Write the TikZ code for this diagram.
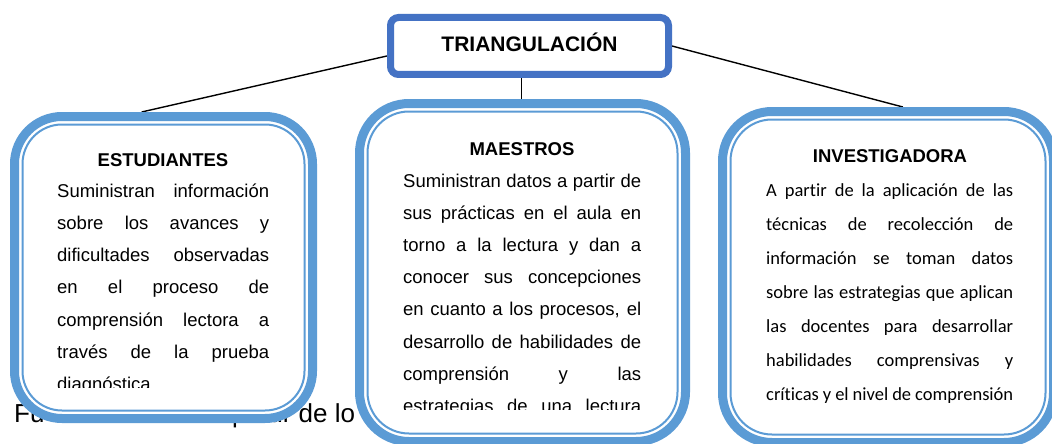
\documentclass[tikz,border=0pt]{standalone}
\usepackage{fontspec}
\setmainfont[Ligatures=NoCommon]{Liberation Sans}
\newfontfamily\calibri[Ligatures=NoCommon]{Carlito}
\usetikzlibrary{backgrounds}
\definecolor{topblue}{HTML}{4472C4}
\definecolor{boxblue}{HTML}{5B9BD5}
\tikzset{
  topbox/.style={draw=topblue, line width=7pt, rounded corners=8pt, fill=white, inner sep=0pt},
  outerband/.style={draw=boxblue, line width=9pt, fill=white, inner sep=0pt},
  innerline/.style={draw=boxblue, line width=2pt, inner sep=0pt},
  conn/.style={draw=black, line width=1.4pt},
  boxtitle/.style={font=\fontsize{18.5}{22}\selectfont\bfseries, inner sep=0pt, anchor=base},
  bodytext/.style={inner sep=0pt, anchor=base west},
  footer/.style={font=\fontsize{26}{30}\selectfont, inner sep=0pt, anchor=base west},
}
\newcommand\jline[1]{\hbox to\hsize{#1}}
\begin{document}
\begin{tikzpicture}[x=1pt,y=-1pt]
\clip (0,0) rectangle (1052,444);

% boxes
\node[topbox, minimum width=278pt, minimum height=57pt] (tri) at (529.5,46) {};
\node[outerband, minimum width=298pt, minimum height=302pt, rounded corners=47.5pt] (est) at (163.5,267.5) {};
\node[outerband, minimum width=326pt, minimum height=338pt, rounded corners=49.5pt] (mae) at (522.5,272.5) {};
\node[outerband, minimum width=331pt, minimum height=331pt, rounded corners=49.5pt] (inv) at (888,277) {};
\node[innerline, minimum width=282pt, minimum height=286pt, rounded corners=39.5pt] (estin) at (est.center) {};
\node[innerline, minimum width=310pt, minimum height=322pt, rounded corners=41.5pt] (maein) at (mae.center) {};
\node[innerline, minimum width=315pt, minimum height=315pt, rounded corners=41.5pt] (invin) at (inv.center) {};

% background: white page, footer text, connectors (behind boxes)
\begin{scope}[on background layer]
\fill[white] (0,0) rectangle (1052,444);
\node[footer] (fu) at (14,422) {Fu};
\node[footer] (pa) at (232,422) {partir de lo};
\draw[conn] (tri.184) -- (est.98);
\draw[conn] ([xshift=-8pt]tri.south) -- ([xshift=-8pt]tri.south |- mae.north);
\draw[conn] (tri.east) -- (inv.85);
\end{scope}

% titles
\node[boxtitle, font=\fontsize{21}{25}\selectfont\bfseries] (ttri) at (529.5,52) {TRIANGULACIÓN};
\node[boxtitle] (test) at (163,166) {ESTUDIANTES};
\node[boxtitle] (tmae) at (522,155) {MAESTROS};
\node[boxtitle] (tinv) at (890,162) {INVESTIGADORA};

% body texts
\begin{scope}
\clip (40,120) rectangle (300,387);
\node[bodytext] (best) at (57,197) {\vtop{\hsize=212pt\fontsize{18.5}{32.3}\selectfont
\jline{Suministran información}
\jline{sobre los avances y}
\jline{dificultades observadas}
\jline{en el proceso de}
\jline{comprensión lectora a}
\jline{través de la prueba}
\hbox{diagnóstica}}};
\end{scope}

\begin{scope}
\clip (380,110) rectangle (680,409);
\node[bodytext] (bmae) at (403,187) {\vtop{\hsize=238pt\fontsize{18.5}{32.2}\selectfont
\jline{Suministran datos a partir de}
\jline{sus prácticas en el aula en}
\jline{torno a la lectura y dan a}
\jline{conocer sus concepciones}
\jline{en cuanto a los procesos, el}
\jline{desarrollo de habilidades de}
\jline{comprensión y las}
\jline{estrategias de una lectura}}};
\end{scope}

\node[bodytext] (binv) at (766,196) {\vtop{\hsize=247pt\calibri\fontsize{18.5}{34}\selectfont
\jline{A partir de la aplicación de las}
\jline{técnicas de recolección de}
\jline{información se toman datos}
\jline{sobre las estrategias que aplican}
\jline{las docentes para desarrollar}
\jline{habilidades comprensivas y}
\jline{críticas y el nivel de comprensión}}};
\end{tikzpicture}
\end{document}
